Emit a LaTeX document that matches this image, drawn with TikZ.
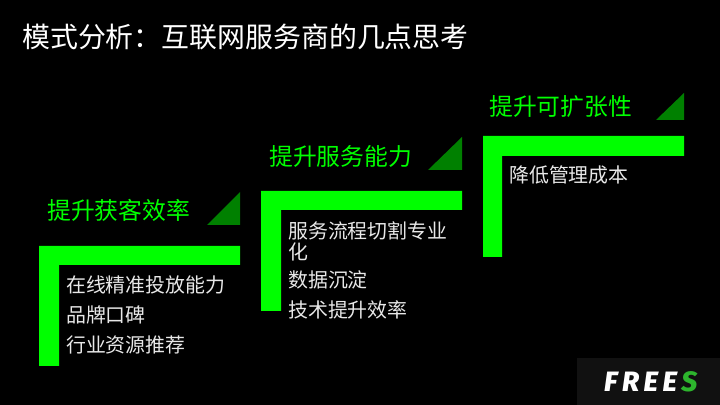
\documentclass[tikz,border=0pt]{standalone}
\usepackage{fontspec}
\setmainfont{Noto Sans CJK SC}
\newfontfamily\logofont[ItalicFont={Fira Sans ExtraBold Italic}]{Fira Sans}
\usepackage{tikz}
\definecolor{freesgreen}{HTML}{00FF00}
\definecolor{darkgreen}{HTML}{008000}
\definecolor{logogreen}{HTML}{2DB52D}
\definecolor{logoback}{HTML}{111111}
\definecolor{itemgray}{HTML}{E8E8E8}
\begin{document}
\begin{tikzpicture}[>=latex]
      \tikzstyle{every node}=[inner sep=0pt,anchor=west]
      \tikzstyle{heading}=[font=\fontsize{23.8bp}{28bp}\selectfont,text=freesgreen]
      \tikzstyle{item}=[font=\fontsize{19.9bp}{21bp}\selectfont,text=itemgray,align=left]
      \tikzstyle{bar}=[fill=freesgreen,draw=none]
      \tikzstyle{corner}=[fill=darkgreen,draw=none]
      %%
\useasboundingbox (0bp,0bp) rectangle (720bp,405bp);
  \fill [black] (0bp,0bp) rectangle (720bp,405bp);
  \node (title) at (22bp,368bp) [font=\fontsize{27.9bp}{32bp}\selectfont,text=white] {模式分析\char"FF1A 互联网服务商的几点思考};
  %%
  \fill [bar] (39bp,39bp) -- (39bp,159bp) -- (240bp,159bp) -- (240bp,140bp) -- (59bp,140bp) -- (59bp,39bp) -- cycle;
  \fill [corner] (207bp,180bp) -- (240bp,180bp) -- (240bp,213bp) -- cycle;
  \node (head1) at (47bp,195bp) [heading] {提升获客效率};
  \node (item1a) at (66bp,120bp) [item] {在线精准投放能力};
  \node (item1b) at (66bp,90bp) [item] {品牌口碑};
  \node (item1c) at (66bp,60bp) [item] {行业资源推荐};
  %%
  \fill [bar] (261bp,94bp) -- (261bp,214bp) -- (462bp,214bp) -- (462bp,195bp) -- (281bp,195bp) -- (281bp,94bp) -- cycle;
  \fill [corner] (428bp,235bp) -- (462bp,235bp) -- (462bp,268bp) -- cycle;
  \node (head2) at (269bp,249bp) [heading] {提升服务能力};
  \node (item2a) at (288bp,164bp) [item] {服务流程切割专业\\化};
  \node (item2b) at (288bp,125bp) [item] {数据沉淀};
  \node (item2c) at (288bp,95bp) [item] {技术提升效率};
  %%
  \fill [bar] (483bp,148bp) -- (483bp,269bp) -- (684bp,269bp) -- (684bp,249bp) -- (502bp,249bp) -- (502bp,148bp) -- cycle;
  \fill [corner] (656bp,285bp) -- (684bp,285bp) -- (684bp,312bp) -- cycle;
  \node (head3) at (489bp,298bp) [heading] {提升可扩张性};
  \node (item3a) at (509bp,230bp) [item] {降低管理成本};
  %%
  \fill [logoback] (577bp,0bp) rectangle (720bp,47bp);
  \node (logo) at (604bp,23bp) [font=\logofont\fontsize{28bp}{30bp}\selectfont\itshape,text=white] {F\hspace{4.5bp}R\hspace{4.5bp}E\hspace{4.5bp}E\hspace{4.5bp}\textcolor{logogreen}{S}};
%

    \end{tikzpicture}
\end{document}
